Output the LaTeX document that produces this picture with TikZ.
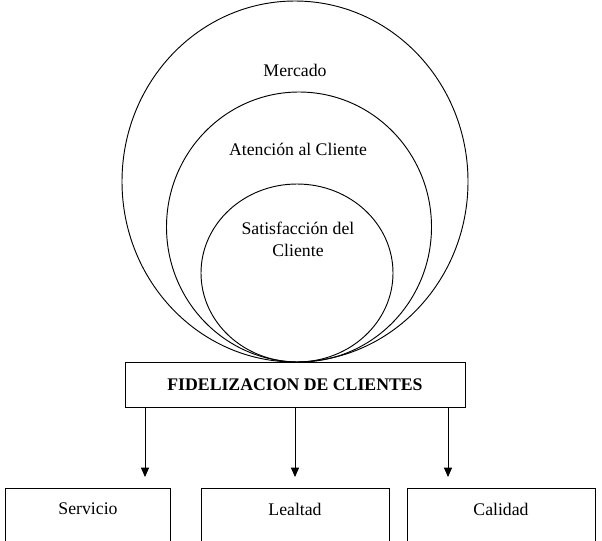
\documentclass[tikz,border=0pt]{standalone}
\usepackage{fontspec}
\setmainfont{Liberation Serif}
\usetikzlibrary{arrows.meta}

\begin{document}
\begin{tikzpicture}[
    x=0.75pt, y=-0.75pt,
    >={Triangle[length=7pt,width=6pt]},
    every node/.style={font=\fontsize{13.3}{16.5}\selectfont},
    line width=0.7pt
]

\useasboundingbox (0,0) rectangle (602,540);
\clip (0,0) rectangle (602,540);

% Nested circles
\draw (295,181.5) ellipse [x radius=173, y radius=180.5];
\draw (299,227) ellipse [x radius=132.5, y radius=135];
\draw (297,273) ellipse [x radius=96, y radius=89];

\node (merc) at (295,70) {Mercado};
\node (aten) at (298,149) {Atención al Cliente};
\node[align=center] (sat) at (298,239) {Satisfacción del\\Cliente};

% Main box
\node[draw, minimum width=255pt, minimum height=33.75pt] (fid) at (295,384.5)
    {\bfseries FIDELIZACION DE CLIENTES};

% Bottom boxes
\node[draw, anchor=north west, minimum width=123.75pt, minimum height=70pt] (serv) at (5,488) {};
\node[draw, anchor=north west, minimum width=141pt, minimum height=70pt] (leal) at (201,488) {};
\node[draw, anchor=north west, minimum width=141pt, minimum height=70pt] (cali) at (407,488) {};

\node (servt) at (88,509) {Servicio};
\node (lealt) at (295,509) {Lealtad};
\node (calit) at (501,509) {Calidad};

\coordinate (tip1) at (145,477);
\coordinate (tip2) at (295,477);
\coordinate (tip3) at (448,477);

\draw[->] (fid.south -| tip1) -- (tip1);
\draw[->] (fid.south -| tip2) -- (tip2);
\draw[->] (fid.south -| tip3) -- (tip3);

\end{tikzpicture}
\end{document}
